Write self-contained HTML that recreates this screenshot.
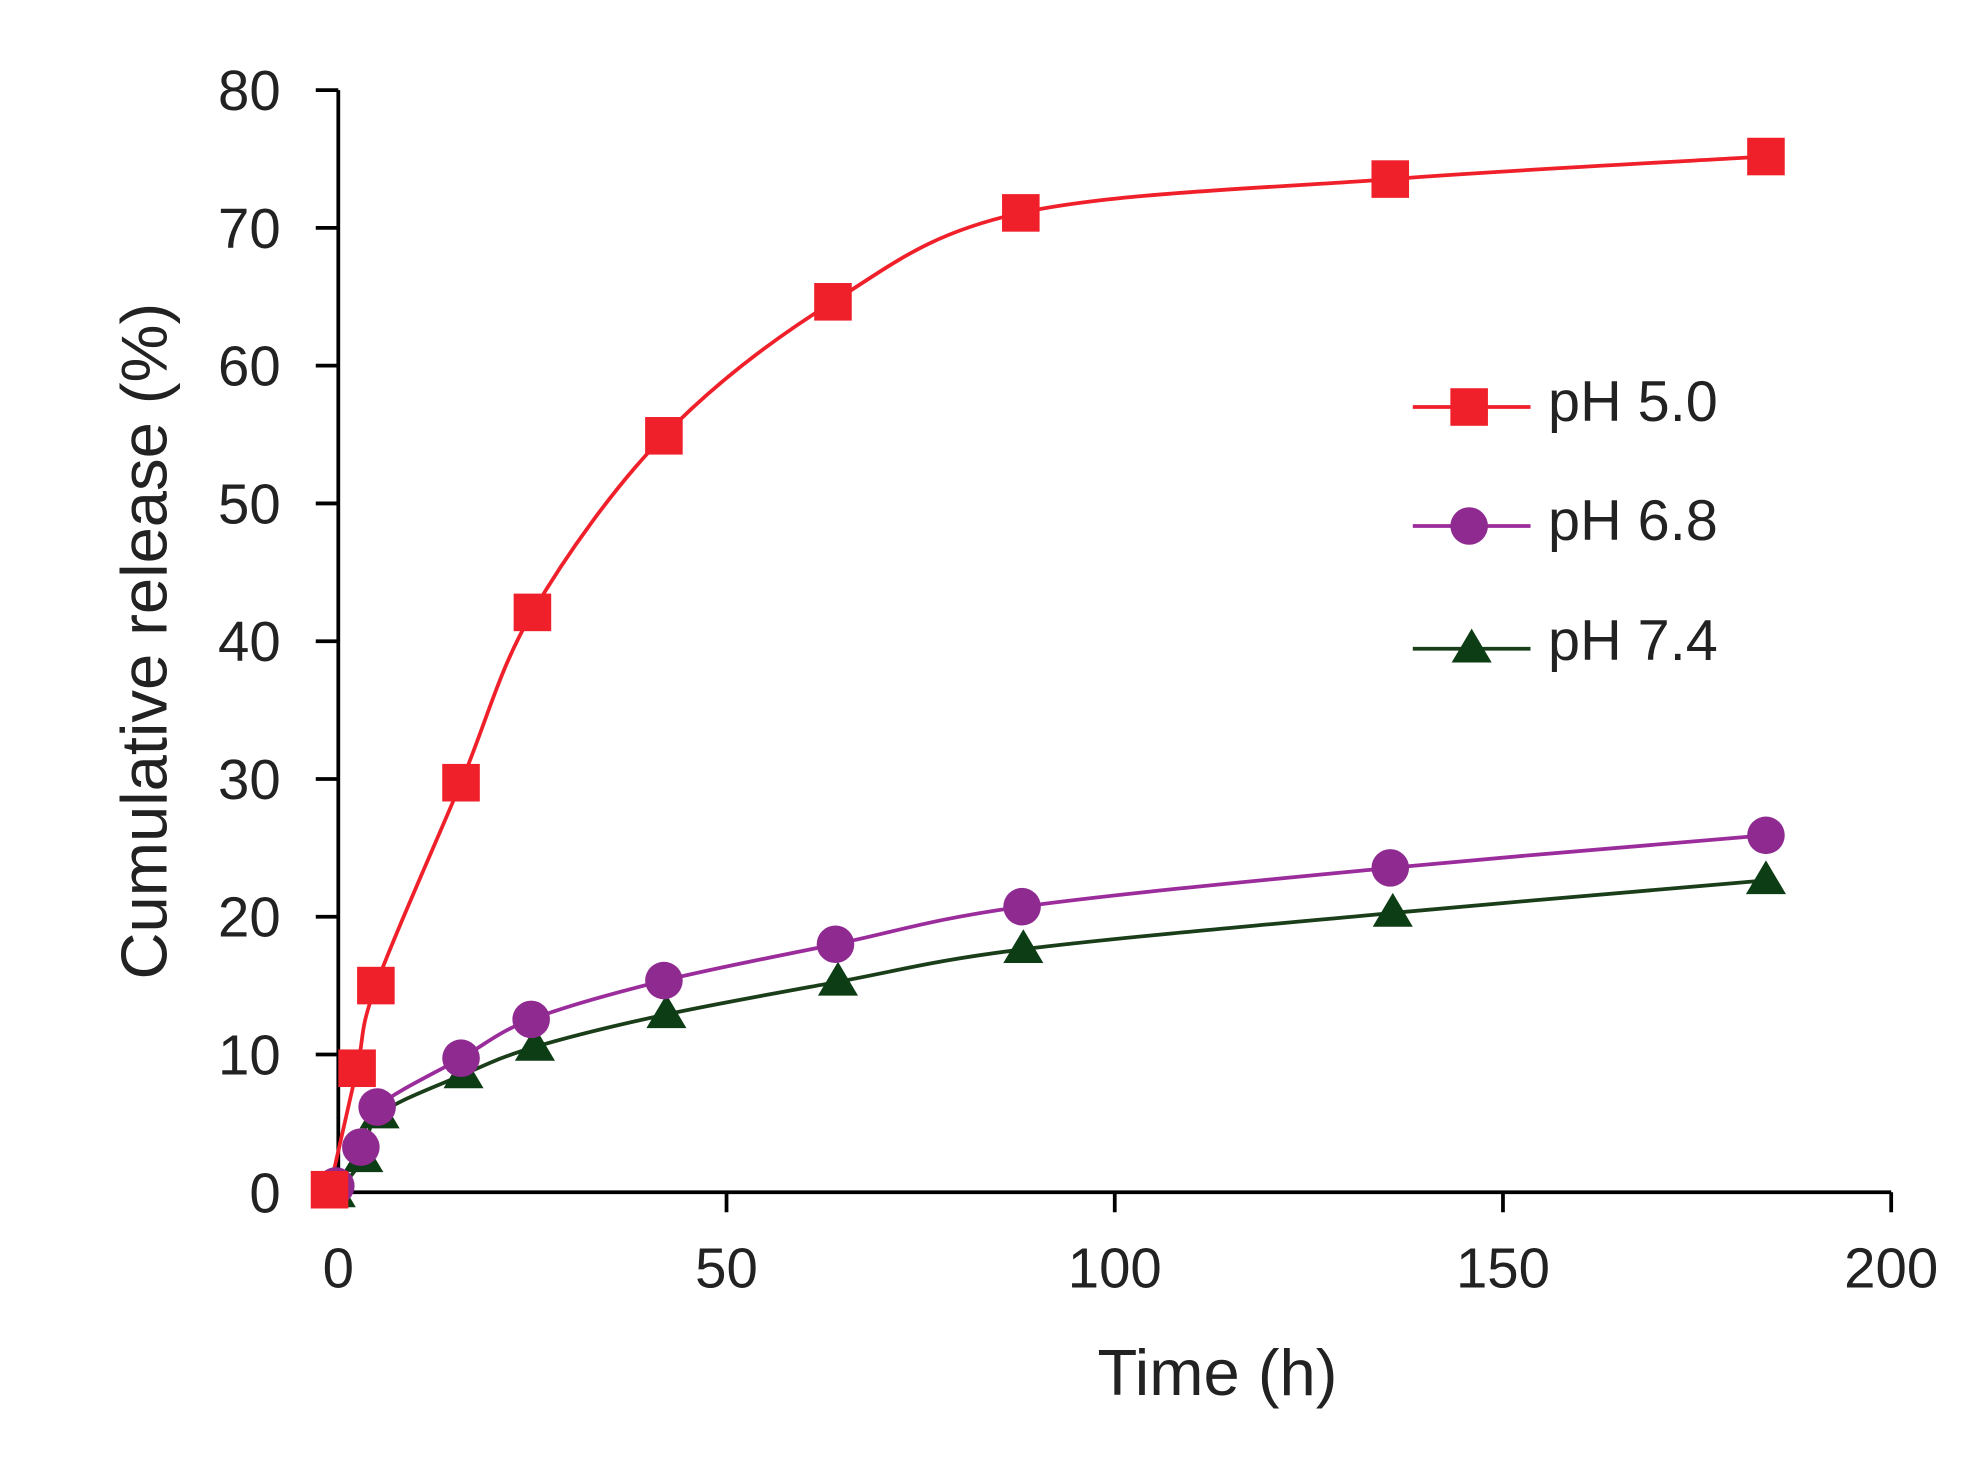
<!DOCTYPE html>
<html><head><style>html,body{margin:0;padding:0;background:#fff}svg{display:block}</style></head>
<body>
<svg id="s" width="1964" height="1479" viewBox="0 0 1568 1181" xmlns="http://www.w3.org/2000/svg" font-family="Liberation Sans, sans-serif">
<rect width="1568" height="1181" fill="#fff"/>
<g stroke="#000" stroke-width="3" fill="none">
<line x1="270" y1="72" x2="270" y2="952"/>
<line x1="270" y1="952" x2="1510" y2="952"/>
<line x1="252" y1="72" x2="270" y2="72"/>
<line x1="252" y1="182" x2="270" y2="182"/>
<line x1="252" y1="292" x2="270" y2="292"/>
<line x1="252" y1="402" x2="270" y2="402"/>
<line x1="252" y1="512" x2="270" y2="512"/>
<line x1="252" y1="622" x2="270" y2="622"/>
<line x1="252" y1="732" x2="270" y2="732"/>
<line x1="252" y1="842" x2="270" y2="842"/>
<line x1="252" y1="952" x2="270" y2="952"/>
<line x1="580" y1="952" x2="580" y2="968"/>
<line x1="890" y1="952" x2="890" y2="968"/>
<line x1="1200" y1="952" x2="1200" y2="968"/>
<line x1="1510" y1="952" x2="1510" y2="968"/>
</g>
<g font-size="45" fill="#222" text-anchor="end">
<text x="224" y="88">80</text><text x="224" y="198">70</text><text x="224" y="308">60</text>
<text x="224" y="418">50</text><text x="224" y="528">40</text><text x="224" y="638">30</text>
<text x="224" y="748">20</text><text x="224" y="858">10</text><text x="224" y="968">0</text>
</g>
<g font-size="45" fill="#222" text-anchor="middle">
<text x="270" y="1028">0</text><text x="580" y="1028">50</text><text x="890" y="1028">100</text>
<text x="1200" y="1028">150</text><text x="1510" y="1028">200</text>
</g>
<text x="972" y="1114" font-size="52" fill="#222" text-anchor="middle">Time (h)</text>
<text transform="translate(133,512) rotate(-90)" font-size="52" fill="#222" text-anchor="middle">Cumulative release (%)</text>

<path id="g" fill="none" stroke="#1a3d1a" stroke-width="3"/>
<path id="p" fill="none" stroke="#9b2c9b" stroke-width="3"/>
<path id="r" fill="none" stroke="#f0202a" stroke-width="3"/>

<g fill="#0d3d14">
<path d="M268,937 l16,27 h-32z"/><path d="M290,909 l16,27 h-32z"/><path d="M303,874 l16,27 h-32z"/>
<path d="M370,842 l16,27 h-32z"/><path d="M427,820 l16,27 h-32z"/><path d="M532,794 l16,27 h-32z"/>
<path d="M669,768 l16,27 h-32z"/><path d="M817,742 l16,27 h-32z"/><path d="M1112,713 l16,27 h-32z"/>
<path d="M1410,687 l16,27 h-32z"/>
</g>
<g fill="#8e2a90">
<circle cx="268" cy="947" r="15"/><circle cx="288" cy="916" r="15"/><circle cx="301" cy="884" r="15"/>
<circle cx="368" cy="845" r="15"/><circle cx="424" cy="814" r="15"/><circle cx="530" cy="783" r="15"/>
<circle cx="667" cy="754" r="15"/><circle cx="816" cy="724" r="15"/><circle cx="1110" cy="693" r="15"/>
<circle cx="1410" cy="667" r="15"/>
</g>
<g fill="#f0202a">
<rect x="248" y="935" width="30" height="30"/><rect x="270" y="838" width="30" height="30"/>
<rect x="285" y="772" width="30" height="30"/><rect x="353" y="610" width="30" height="30"/>
<rect x="410" y="474" width="30" height="30"/><rect x="515" y="333" width="30" height="30"/>
<rect x="650" y="226" width="30" height="30"/><rect x="800" y="155" width="30" height="30"/>
<rect x="1095" y="128" width="30" height="30"/><rect x="1395" y="110" width="30" height="30"/>
</g>

<line x1="1128" y1="325" x2="1222" y2="325" stroke="#f0202a" stroke-width="3"/>
<rect x="1158" y="310" width="30" height="30" fill="#f0202a"/>
<line x1="1128" y1="420" x2="1222" y2="420" stroke="#9b2c9b" stroke-width="3"/>
<circle cx="1173" cy="420" r="15" fill="#8e2a90"/>
<line x1="1128" y1="518" x2="1222" y2="518" stroke="#1a3d1a" stroke-width="3"/>
<path d="M1175,502 l16,27 h-32z" fill="#0d3d14"/>
<g font-size="46" fill="#222">
<text x="1236" y="336">pH 5.0</text>
<text x="1236" y="431">pH 6.8</text>
<text x="1236" y="527">pH 7.4</text>
</g>
</svg>
<script>
function cr(pts){var d="M"+pts[0][0]+","+pts[0][1];for(var i=0;i<pts.length-1;i++){var p0=pts[i-1]||pts[i],p1=pts[i],p2=pts[i+1],p3=pts[i+2]||p2;var t=6;d+=" C"+(p1[0]+(p2[0]-p0[0])/t)+","+(p1[1]+(p2[1]-p0[1])/t)+" "+(p2[0]-(p3[0]-p1[0])/t)+","+(p2[1]-(p3[1]-p1[1])/t)+" "+p2[0]+","+p2[1];}return d;}
document.getElementById("r").setAttribute("d",cr([[263,950],[285,853],[300,787],[368,625],[425,489],[530,348],[665,241],[815,170],[1110,143],[1410,125]]));
document.getElementById("p").setAttribute("d",cr([[268,947],[288,916],[301,884],[368,845],[424,814],[530,783],[667,754],[816,724],[1110,693],[1410,667]]));
document.getElementById("g").setAttribute("d",cr([[268,953],[290,925],[303,890],[370,858],[427,836],[532,810],[669,784],[817,758],[1112,729],[1410,703]]));
</script>
</body></html>
